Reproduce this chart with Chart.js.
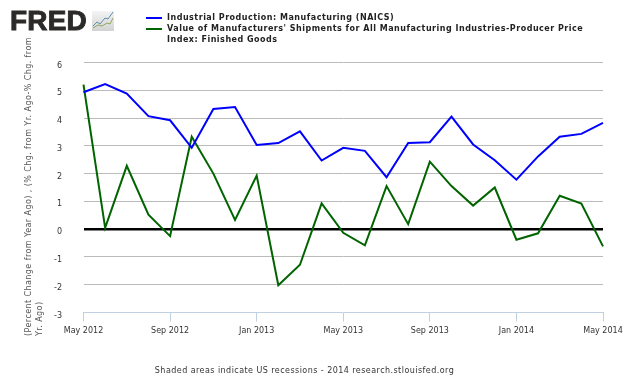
<!DOCTYPE html>
<html><head><meta charset="utf-8">
<script src="https://cdn.jsdelivr.net/npm/chart.js@4"></script>
<style>html,body{margin:0;padding:0;background:#fff}#w{position:relative;width:630px;height:378px;overflow:hidden}
canvas{position:absolute;left:0;top:0}</style></head><body>
<div id="w"><canvas id="c" width="630" height="378"></canvas></div>
<script>
const categories=["May 2012","Jun 2012","Jul 2012","Aug 2012","Sep 2012","Oct 2012","Nov 2012","Dec 2012","Jan 2013","Feb 2013","Mar 2013","Apr 2013","May 2013","Jun 2013","Jul 2013","Aug 2013","Sep 2013","Oct 2013","Nov 2013","Dec 2013","Jan 2014","Feb 2014","Mar 2014","Apr 2014","May 2014"];
const shownTicks=["May 2012","Sep 2012","Jan 2013","May 2013","Sep 2013","Jan 2014","May 2014"];
const production=[4.93,5.22,4.88,4.07,3.92,2.93,4.33,4.4,3.03,3.1,3.52,2.47,2.93,2.82,1.87,3.1,3.13,4.05,3.05,2.48,1.78,2.62,3.33,3.43,3.83];
const shipments=[5.2,0.05,2.28,0.52,-0.25,3.33,2.0,0.33,1.93,-2.02,-1.28,0.93,-0.13,-0.58,1.55,0.18,2.43,1.55,0.85,1.5,-0.38,-0.15,1.2,0.92,-0.62];
const legendProduction=["Industrial Production: Manufacturing (NAICS)"];
const legendShipments=["Value of Manufacturers' Shipments for All Manufacturing Industries-Producer Price","Index: Finished Goods"];
const yTitleLines=["(Percent Change from Year Ago) , (% Chg. from Yr. Ago-% Chg. from","Yr. Ago)"];
const footer="Shaded areas indicate US recessions - 2014 research.stlouisfed.org";
const FONT='"DejaVu Sans"';
const decor={id:'decor',afterDraw(ch){
 const x=ch.ctx;x.save();
 x.fillStyle='#2b2a29';x.font='bold 28px "Liberation Sans"';x.textBaseline='alphabetic';x.textAlign='left';
 x.letterSpacing='0.2px';x.lineWidth=0.9;x.strokeStyle='#2b2a29';
 x.fillText('FRED',10,30);x.strokeText('FRED',10,30);
 const g=x.createLinearGradient(0,11,0,31);g.addColorStop(0,'#f4f4f4');g.addColorStop(1,'#d2d2d2');
 x.fillStyle=g;x.fillRect(92,11,22,20);
 x.lineWidth=1;x.strokeStyle='#5f8fa8';x.beginPath();x.moveTo(93,26);x.lineTo(97,22);x.lineTo(100,24);x.lineTo(105,18);x.lineTo(108,19);x.lineTo(113,12);x.stroke();
 x.strokeStyle='#8fa860';x.beginPath();x.moveTo(93,28);x.lineTo(98,25);x.lineTo(102,26);x.lineTo(107,23);x.lineTo(110,24);x.lineTo(113,18);x.stroke();
 x.lineWidth=2;x.strokeStyle='#0000ff';x.beginPath();x.moveTo(146,18);x.lineTo(162,18);x.stroke();
 x.strokeStyle='#006400';x.beginPath();x.moveTo(146,29);x.lineTo(162,29);x.stroke();
 x.fillStyle='#222';x.font='bold 8px '+FONT;x.letterSpacing='0.5px';
 x.fillText(legendProduction[0],167,20);
 x.fillText(legendShipments[0],167,31);
 x.fillText(legendShipments[1],167,42);
 x.fillStyle='#333';x.font='8px '+FONT;x.letterSpacing='0.45px';x.textAlign='center';
 x.fillText(footer,304.5,373);
 x.fillStyle='#555';x.letterSpacing='0.42px';x.textAlign='left';
 x.save();x.translate(31,336);x.rotate(-Math.PI/2);x.fillText(yTitleLines[0],0,0);x.fillText(yTitleLines[1],0,11);x.restore();
 x.restore();
}};
new Chart(document.getElementById('c'),{
 type:'line',
 data:{labels:categories,datasets:[
  {label:legendProduction[0],data:production,borderColor:'#0000ff',borderWidth:2,pointRadius:0,tension:0,clip:false},
  {label:legendShipments.join(' '),data:shipments,borderColor:'#006400',borderWidth:2,pointRadius:0,tension:0,clip:false}]},
 plugins:[decor],
 options:{responsive:false,animation:false,devicePixelRatio:1,
  layout:{padding:{left:0,right:27,top:62.5,bottom:0}},
  plugins:{legend:{display:false},tooltip:{enabled:false}},
  scales:{
   x:{type:'category',offset:false,
    afterFit(s){s.height=65.5;},
    border:{color:'#c0d0e0',width:1},
    grid:{display:true,drawOnChartArea:false,drawTicks:true,tickLength:9,tickColor:'#c0d0e0',tickWidth:1},
    afterBuildTicks(s){s.ticks=s.ticks.filter(t=>shownTicks.includes(categories[t.value]));},
    ticks:{autoSkip:false,maxRotation:0,minRotation:0,padding:5,color:'#333',font:{family:FONT,size:8},callback(v){return categories[v];}}},
   y:{min:-3,max:6,
    afterFit(s){s.width=83.5;},
    border:{display:false},
    grid:{drawTicks:false,color:c=>c.tick.value===0?'#000':(c.tick.value===-3?'rgba(0,0,0,0)':'#bbbbbb'),lineWidth:c=>c.tick.value===0?2.5:1},
    ticks:{stepSize:1,padding:21.5,color:'#333',font:{family:FONT,size:8,lineHeight:0.75},callback(v){return ['',String(v)];}}}
  }}
});
</script></body></html>
